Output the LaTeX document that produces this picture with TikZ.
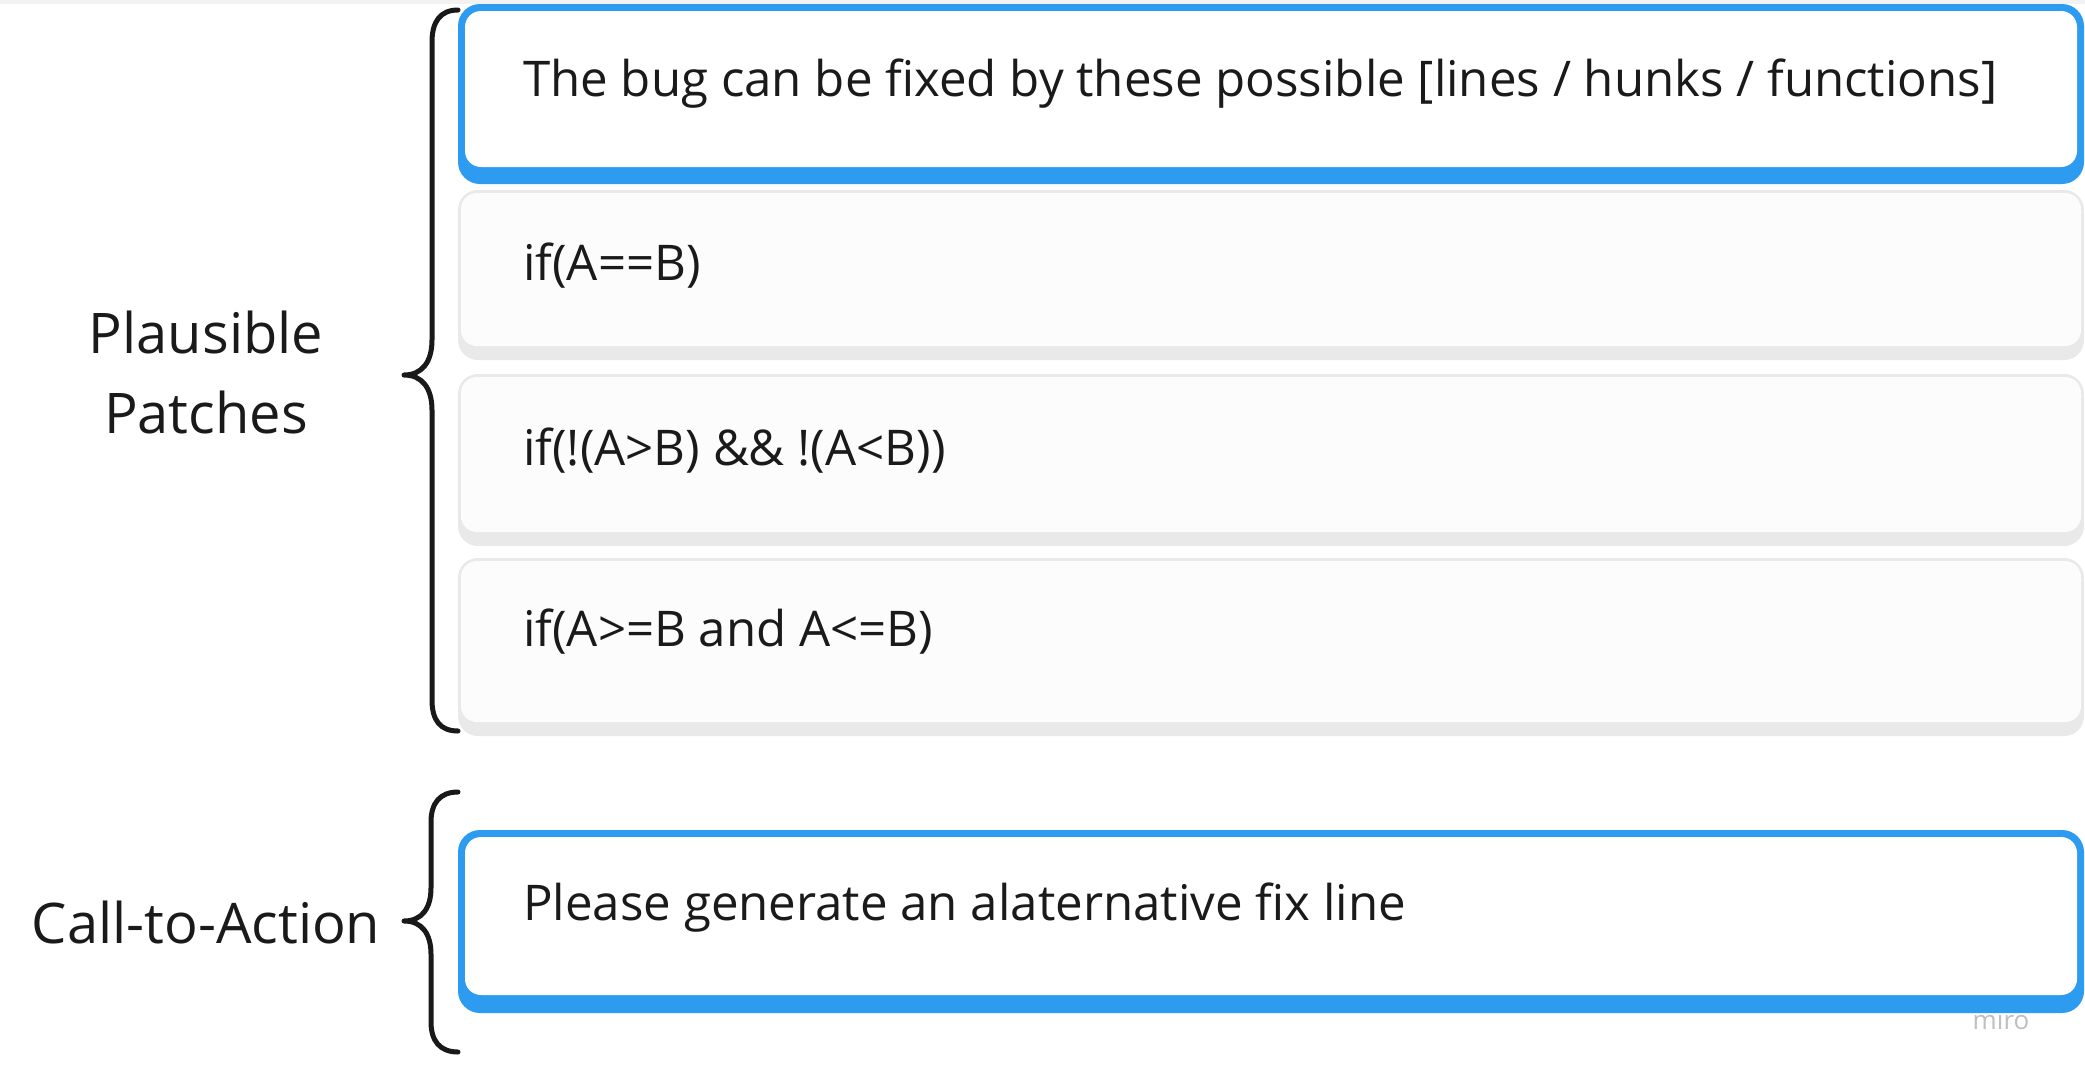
\documentclass[tikz,border=0pt]{standalone}
\usepackage{fontspec}
\setmainfont{Open Sans}
\definecolor{miroblue}{HTML}{2D9BF0}
\definecolor{grayedge}{HTML}{E9E9E9}
\definecolor{grayfill}{HTML}{FCFCFC}
\definecolor{txtcol}{HTML}{1A1A1A}
\tikzset{
  boxtxt/.style={anchor=west, inner sep=0pt, text=txtcol, font=\fontsize{49.2}{60}\selectfont},
  labeltxt/.style={align=center, inner sep=0pt, text=txtcol, font=\fontsize{56}{80}\selectfont},
  bracepath/.style={line width=5pt, line cap=round, line join=round, draw=black!90},
}
\newcommand{\graybox}[2]{%
  \fill[grayedge, rounded corners=20pt] (458,#1) rectangle (2084,#2);
  \fill[grayfill, rounded corners=16pt] (461,#1+3) rectangle (2081,#2-14);
}
\begin{document}
\begin{tikzpicture}[x=1pt,y=-1pt]
\useasboundingbox (0,0) rectangle (2085,1079);
\fill[white] (0,0) rectangle (2085,1079);
\fill[black!5] (0,0) rectangle (2085,4);
% watermark
\node[text=black!25, font=\fontsize{26}{26}\selectfont, inner sep=0pt] (miro) at (2001,1020) {miro};
% boxes
\fill[miroblue, rounded corners=22pt] (458,4) rectangle (2084,184);
\fill[white, rounded corners=16pt] (465,11) rectangle (2077,167);
\graybox{190}{360}
\graybox{374}{546}
\graybox{558}{736}
\fill[miroblue, rounded corners=22pt] (458,830) rectangle (2084,1013);
\fill[white, rounded corners=16pt] (465,837) rectangle (2077,995);
% texts
\node[boxtxt] (t1) at (523,84) {The bug can be fixed by these possible [lines / hunks / functions]};
\node[boxtxt] (t2) at (523,266) {if(A==B)};
\node[boxtxt] (t3) at (523,451) {if(!(A>B) \&\& !(A<B))};
\node[boxtxt] (t4) at (523,632) {if(A>=B and A<=B)};
\node[boxtxt] (t5) at (523,908) {Please generate an alaternative fix line};
\node[labeltxt] (l1) at (206,372) {Plausible\\Patches};
\node[labeltxt] (l2) at (206,922) {Call-to-Action};
% braces
\coordinate (b1top) at (458,10);
\coordinate (b1tip) at (404,375);
\coordinate (b1bot) at (458,731);
\draw[bracepath] (b1top) .. controls (440,10) and (432,22) .. (432,42) -- (432,340)
  .. controls (432,362) and (422,375) .. (b1tip)
  .. controls (422,375) and (432,388) .. (432,410) -- (432,700)
  .. controls (432,720) and (440,731) .. (b1bot);
\coordinate (b2top) at (458,792);
\coordinate (b2tip) at (404,921);
\coordinate (b2bot) at (458,1052);
\draw[bracepath] (b2top) .. controls (440,792) and (431,803) .. (431,822) -- (431,888)
  .. controls (431,908) and (422,921) .. (b2tip)
  .. controls (422,921) and (431,934) .. (431,954) -- (431,1022)
  .. controls (431,1041) and (440,1052) .. (b2bot);
\end{tikzpicture}
\end{document}
